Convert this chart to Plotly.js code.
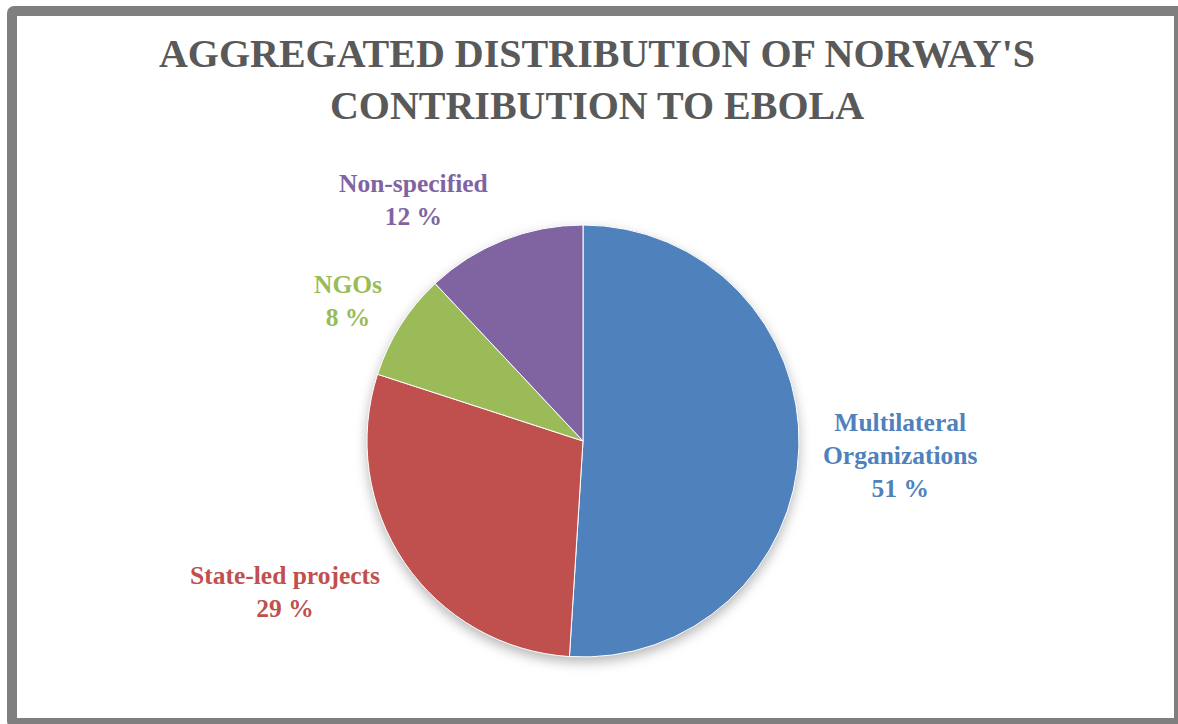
<!DOCTYPE html>
<html>
<head>
<meta charset="utf-8">
<script src="https://cdn.plot.ly/plotly-3.0.1.min.js"></script>
<style>
  html, body { margin: 0; padding: 0; background: #ffffff; overflow: hidden; }
  #wrap { position: relative; width: 1178px; height: 724px; overflow: hidden; background: #fff; }
  #chart { position: absolute; left: 0; top: 0; width: 1178px; height: 724px; }
  #frame { position: absolute; left: 7px; top: 6px; width: 1177px; height: 722px; box-sizing: border-box;
           border: 10px solid #7f7f7f; border-radius: 7px; pointer-events: none; }
  .pielayer .trace { filter: drop-shadow(0px 5px 6px rgba(0,0,0,0.28)); }
</style>
</head>
<body>
<div id="wrap">
  <div id="chart"></div>
  <div id="frame"></div>
</div>
<script>
const categories = ["Multilateral Organizations", "State-led projects", "NGOs", "Non-specified"];
const labelLines = ["Multilateral<br>Organizations", "State-led projects", "NGOs", "Non-specified"];
const shares = [51, 29, 8, 12];
const colors = ["#4F81BD", "#C0504D", "#9BBB59", "#8064A2"];
const titleText = "AGGREGATED DISTRIBUTION OF NORWAY'S<br>CONTRIBUTION TO EBOLA";

const W = 1178, H = 724;
const cx = 583, cy = 441, R = 216;
const serif = "'Liberation Serif', 'Times New Roman', serif";

// label anchor positions (pixels) for each category
const labelPos = [[900, 455], [285, 592], [348, 301], [413, 200]];

const annotations = categories.map((c, i) => ({
  xref: 'paper', yref: 'paper',
  x: labelPos[i][0] / W, y: 1 - labelPos[i][1] / H,
  xanchor: 'center', yanchor: 'middle',
  text: labelLines[i] + '<br>' + shares[i] + ' %',
  showarrow: false, align: 'center',
  font: { family: serif, size: 25.5, color: colors[i], weight: 'bold' }
}));

const data = [{
  type: 'pie',
  labels: categories,
  values: shares,
  sort: false,
  direction: 'clockwise',
  rotation: 0,
  marker: { colors: colors, line: { color: '#ffffff', width: 1 } },
  textinfo: 'none',
  hoverinfo: 'label+percent',
  domain: { x: [(cx - R) / W, (cx + R) / W], y: [1 - (cy + R) / H, 1 - (cy - R) / H] },
  showlegend: false
}];

const layout = {
  width: W, height: H,
  margin: { l: 0, r: 0, t: 0, b: 0 },
  paper_bgcolor: '#ffffff',
  plot_bgcolor: '#ffffff',
  showlegend: false,
  title: {
    text: titleText,
    x: 597 / W, xanchor: 'center',
    y: 1 - 67 / H, yanchor: 'middle', yref: 'container',
    font: { family: serif, size: 40, color: '#595959', weight: 'bold' }
  },
  annotations: annotations
};

Plotly.newPlot('chart', data, layout, { displayModeBar: false, staticPlot: true });
</script>
</body>
</html>
